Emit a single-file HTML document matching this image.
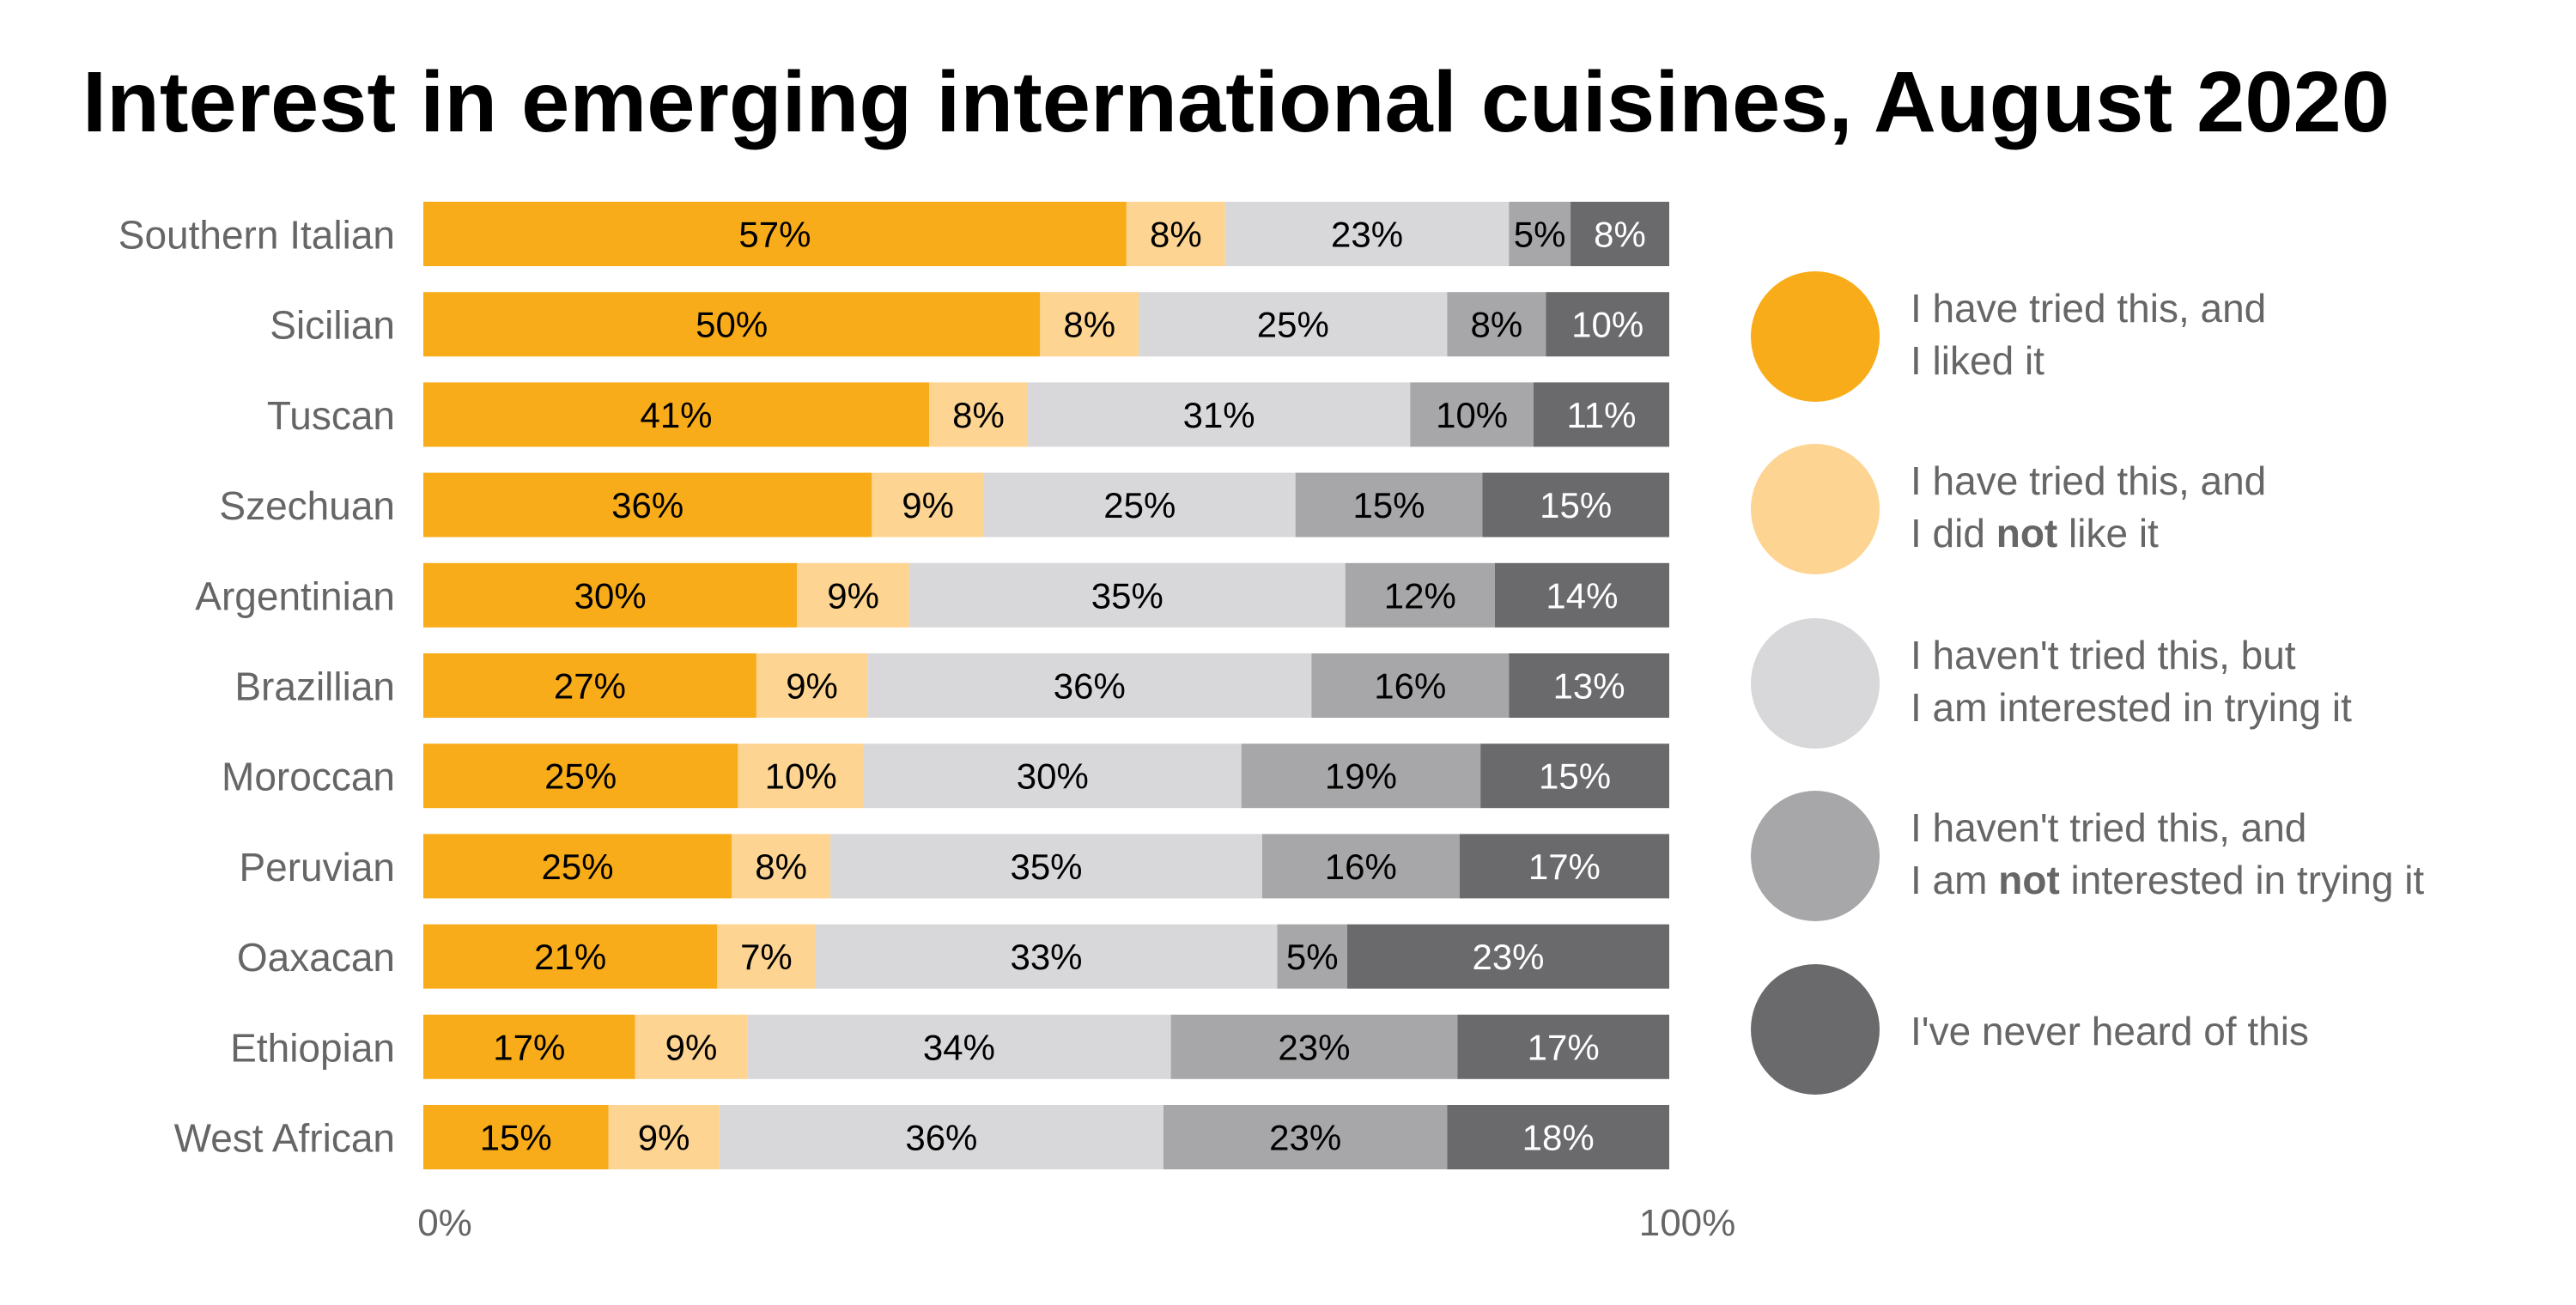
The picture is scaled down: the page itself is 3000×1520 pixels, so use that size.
<!DOCTYPE html>
<html><head><meta charset="utf-8"><style>
html,body{margin:0;padding:0;background:#fff;}
svg{display:block;font-family:"Liberation Sans",sans-serif;}
</style></head><body>
<svg id="chart" width="3000" height="1520" viewBox="0 0 3000 1520" xmlns="http://www.w3.org/2000/svg">
<text x="96" y="153" font-size="100" font-weight="bold" fill="#000" textLength="2687" lengthAdjust="spacingAndGlyphs">Interest in emerging international cuisines, August 2020</text>
<g id="bars"></g>
<g id="legend"></g>
<text x="518" y="1439" font-size="44" fill="#666" text-anchor="middle">0%</text>
<text x="1965" y="1439" font-size="44" fill="#666" text-anchor="middle">100%</text>
</svg>
<script>
const categories = ["Southern Italian","Sicilian","Tuscan","Szechuan","Argentinian","Brazillian","Moroccan","Peruvian","Oaxacan","Ethiopian","West African"];
const likedVals = [57,50,41,36,30,27,25,25,21,17,15];
const dislikedVals = [8,8,8,9,9,9,10,8,7,9,9];
const interestedVals = [23,25,31,25,35,36,30,35,33,34,36];
const notInterestedVals = [5,8,10,15,12,16,19,16,5,23,23];
const neverHeardVals = [8,10,11,15,14,13,15,17,23,17,18];
const seriesNames = ["I have tried this, and|I liked it","I have tried this, and|I did <b>not</b> like it","I haven't tried this, but|I am interested in trying it","I haven't tried this, and|I am <b>not</b> interested in trying it","I've never heard of this"];
const colors = ["#F9AC19","#FDD491","#D8D8DA","#A7A7A9","#6A6A6C"];
const textColors = ["#000","#000","#000","#000","#fff"];
const series = [likedVals,dislikedVals,interestedVals,notInterestedVals,neverHeardVals];
const seriesKeys = ["liked","disliked","interested","not-interested","never-heard"];

const NS = "http://www.w3.org/2000/svg";
const x0 = 493, xW = 1451, y0 = 235, pitch = 105.2, bh = 75;
const xScale = (v, total) => v / total * xW;
const yPos = i => y0 + i * pitch;
const bars = document.getElementById("bars");
categories.forEach((cat, i) => {
  const y = yPos(i);
  const lab = document.createElementNS(NS, "text");
  
  
  lab.setAttribute("x", 460); lab.setAttribute("y", y + bh/2 + 17);
  lab.setAttribute("text-anchor", "end"); lab.setAttribute("font-size", "46"); lab.setAttribute("fill", "#666");
  lab.textContent = cat; bars.appendChild(lab);
  let total = 0; series.forEach(s => total += s[i]);
  let acc = 0;
  series.forEach((s, k) => {
    const v = s[i];
    const xs = x0 + xScale(acc, total), w = xScale(v, total);
    const r = document.createElementNS(NS, "rect");
    
    
    r.setAttribute("x", xs); r.setAttribute("y", y); r.setAttribute("width", w); r.setAttribute("height", bh);
    r.setAttribute("fill", colors[k]); bars.appendChild(r);
    const t = document.createElementNS(NS, "text");
    
    
    t.setAttribute("x", xs + w/2); t.setAttribute("y", y + bh/2 + 15);
    t.setAttribute("text-anchor", "middle"); t.setAttribute("font-size", "42"); t.setAttribute("fill", textColors[k]);
    t.textContent = v + "%"; bars.appendChild(t);
    acc += v;
  });
});
const legend = document.getElementById("legend");
const legendY = [392, 593, 796, 997, 1199];
seriesNames.forEach((name, k) => {
  const cy = legendY[k];
  const e = document.createElementNS(NS, "ellipse");
  
  
  e.setAttribute("cx", 2114); e.setAttribute("cy", cy); e.setAttribute("rx", 75); e.setAttribute("ry", 76);
  e.setAttribute("fill", colors[k]); legend.appendChild(e);
  const lines = name.split("|");
  lines.forEach((ln, j) => {
    const t = document.createElementNS(NS, "text");
    
    
    t.setAttribute("x", 2225);
    const by = lines.length === 1 ? cy + 18 : cy - 17 + j * 61;
    t.setAttribute("y", by); t.setAttribute("font-size", "46"); t.setAttribute("fill", "#666");
    t.innerHTML = ln.replace("<b>", '<tspan font-weight="bold">').replace("</b>", "</tspan>");
    legend.appendChild(t);
  });
});
</script>
</body></html>
